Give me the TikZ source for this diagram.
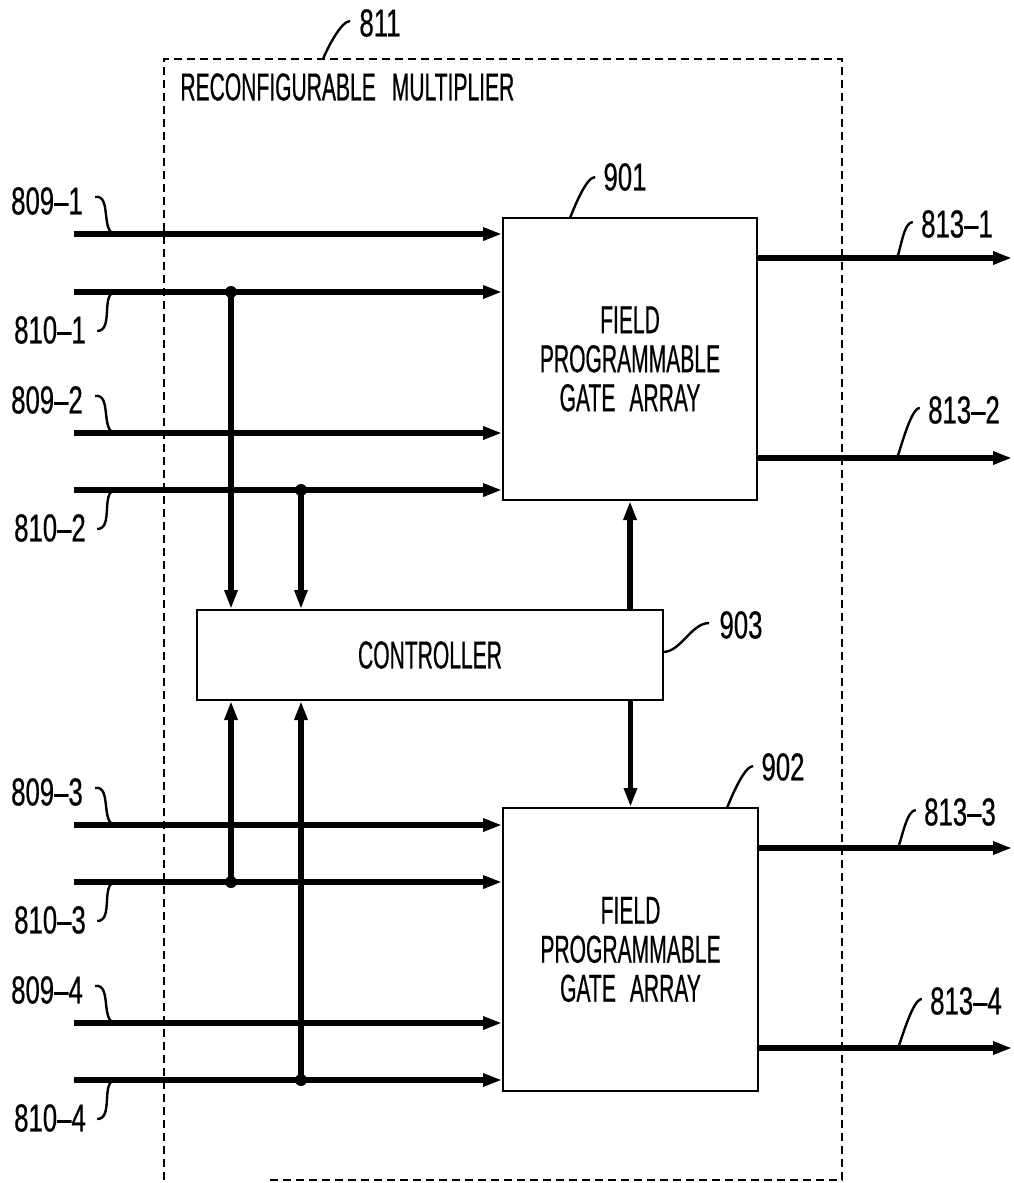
\documentclass[tikz,border=0pt]{standalone}
\usepackage{fontspec}
\setmainfont[FakeStretch=0.54,FakeBold=0.5]{Liberation Sans}
\newfontfamily\numfont[FakeStretch=0.66,FakeBold=0.5]{Liberation Sans}
\usetikzlibrary{arrows.meta,calc}
\begin{document}
\begin{tikzpicture}[x=0.5pt,y=-0.5pt,
  bus/.style={line width=2.6pt},
  arr/.style={-{Triangle[length=9.5pt,width=6.2pt]}},
  box/.style={draw,line width=1pt,inner sep=0pt},
  lead/.style={line width=1.2pt},
  lbl/.style={font=\numfont\fontsize{19.5}{20}\selectfont,inner sep=0pt},
  txt/.style={font=\fontsize{19.5}{19.5}\selectfont,align=center},
  jdot/.style={circle,fill,inner sep=0pt,minimum size=6pt},
  frame/.style={dash pattern=on 4pt off 2.5pt,line width=0.9pt}
]
\useasboundingbox (0,0) rectangle (1013,1183);

% dashed frame
\coordinate (fa) at (270,1180);
\coordinate (fb) at (842,1180);
\coordinate (fc) at (842,59);
\coordinate (fd) at (164,59);
\coordinate (fe) at (164,1183);
\draw[frame] (fa) -- (fb) -- (fc) -- (fd) -- (fe);
\node[txt,anchor=west,inner sep=0pt] (title) at (180,87) {RECONFIGURABLE\hspace{8pt}MULTIPLIER};
\node[lbl] (l811) at (380,23) {811};
\coordinate (t811) at (323,59);
\draw[lead] (l811.west) ++(-9,-2) .. controls +(-9,0) and +(4,-10) .. (t811);

% boxes
\node[box,txt,minimum width=127pt,minimum height=141pt] (f1) at (630,359) {FIELD\\PROGRAMMABLE\\GATE\hspace{7pt}ARRAY};
\node[box,txt,minimum width=127.5pt,minimum height=141.5pt] (f2) at (630.5,949.5) {FIELD\\PROGRAMMABLE\\GATE\hspace{7pt}ARRAY};
\node[box,txt,minimum width=233pt,minimum height=45pt] (ctl) at (430,655) {CONTROLLER};

% box labels
\node[lbl] (l901) at (625,177) {901};
\coordinate (t901) at (570,218);
\draw[lead] (l901.west) ++(-8,0) .. controls +(-9,0) and +(4,-10) .. (t901);
\node[lbl] (l902) at (783,767) {902};
\coordinate (t902) at (727,808);
\draw[lead] (l902.west) ++(-8,-1) .. controls +(-9,0) and +(4,-10) .. (t902);
\node[lbl] (l903) at (741,625) {903};
\coordinate (t903) at (663,652);
\draw[lead] (l903.west) ++(-10,-2) .. controls +(-18,0) and +(18,0) .. (t903);

% inputs
\foreach \k/\ya/\yb/\f in {1/234/292/f1, 2/433/490/f1, 3/825/882/f2, 4/1023/1080/f2} {
  \coordinate (p\k) at (74,\ya);
  \coordinate (q\k) at (74,\yb);
  \draw[bus,arr] (p\k) -- (p\k -| \f.west);
  \draw[bus,arr] (q\k) -- (q\k -| \f.west);
  \node[lbl] (lp\k) at (47,\ya-33) {809–\k};
  \node[lbl] (lq\k) at (50,\yb+38) {810–\k};
  \draw[lead] (lp\k.east) ++(12,-4) .. controls +(17,-3) and +(-16,0) .. ($(p\k)+(42,0)$);
  \draw[lead] (lq\k.east) ++(11,1) .. controls +(17,0) and +(-16,0) .. ($(q\k)+(42,0)$);
}

% junctions and control lines
\node[jdot] (j1) at (231,292) {};
\node[jdot] (j2) at (301,490) {};
\node[jdot] (j3) at (231,882) {};
\node[jdot] (j4) at (301,1080) {};
\draw[bus,arr] (j1.center) -- (j1 |- ctl.north);
\draw[bus,arr] (j2.center) -- (j2 |- ctl.north);
\draw[bus,arr] (j3.center) -- (j3 |- ctl.south);
\draw[bus,arr] (j4.center) -- (j4 |- ctl.south);
\draw[bus,arr] (f1.south |- ctl.north) -- (f1.south);
\draw[bus,arr] (f2.north |- ctl.south) -- (f2.north);

% outputs
\foreach \k/\y/\f/\lx/\ly in {1/258/f1/957/224, 2/458/f1/964/410, 3/848/f2/960/812, 4/1048/f2/966/1001} {
  \coordinate (o\k) at (1012,\y);
  \draw[bus,arr] (\f.east |- o\k) -- (o\k);
  \node[lbl] (lo\k) at (\lx,\ly) {813–\k};
  \draw[lead] (lo\k.west) ++(-8,-2) .. controls +(-9,0) and +(4,-10) .. ($(\f.east |- o\k)+(139,0)$);
}
\end{tikzpicture}
\end{document}
